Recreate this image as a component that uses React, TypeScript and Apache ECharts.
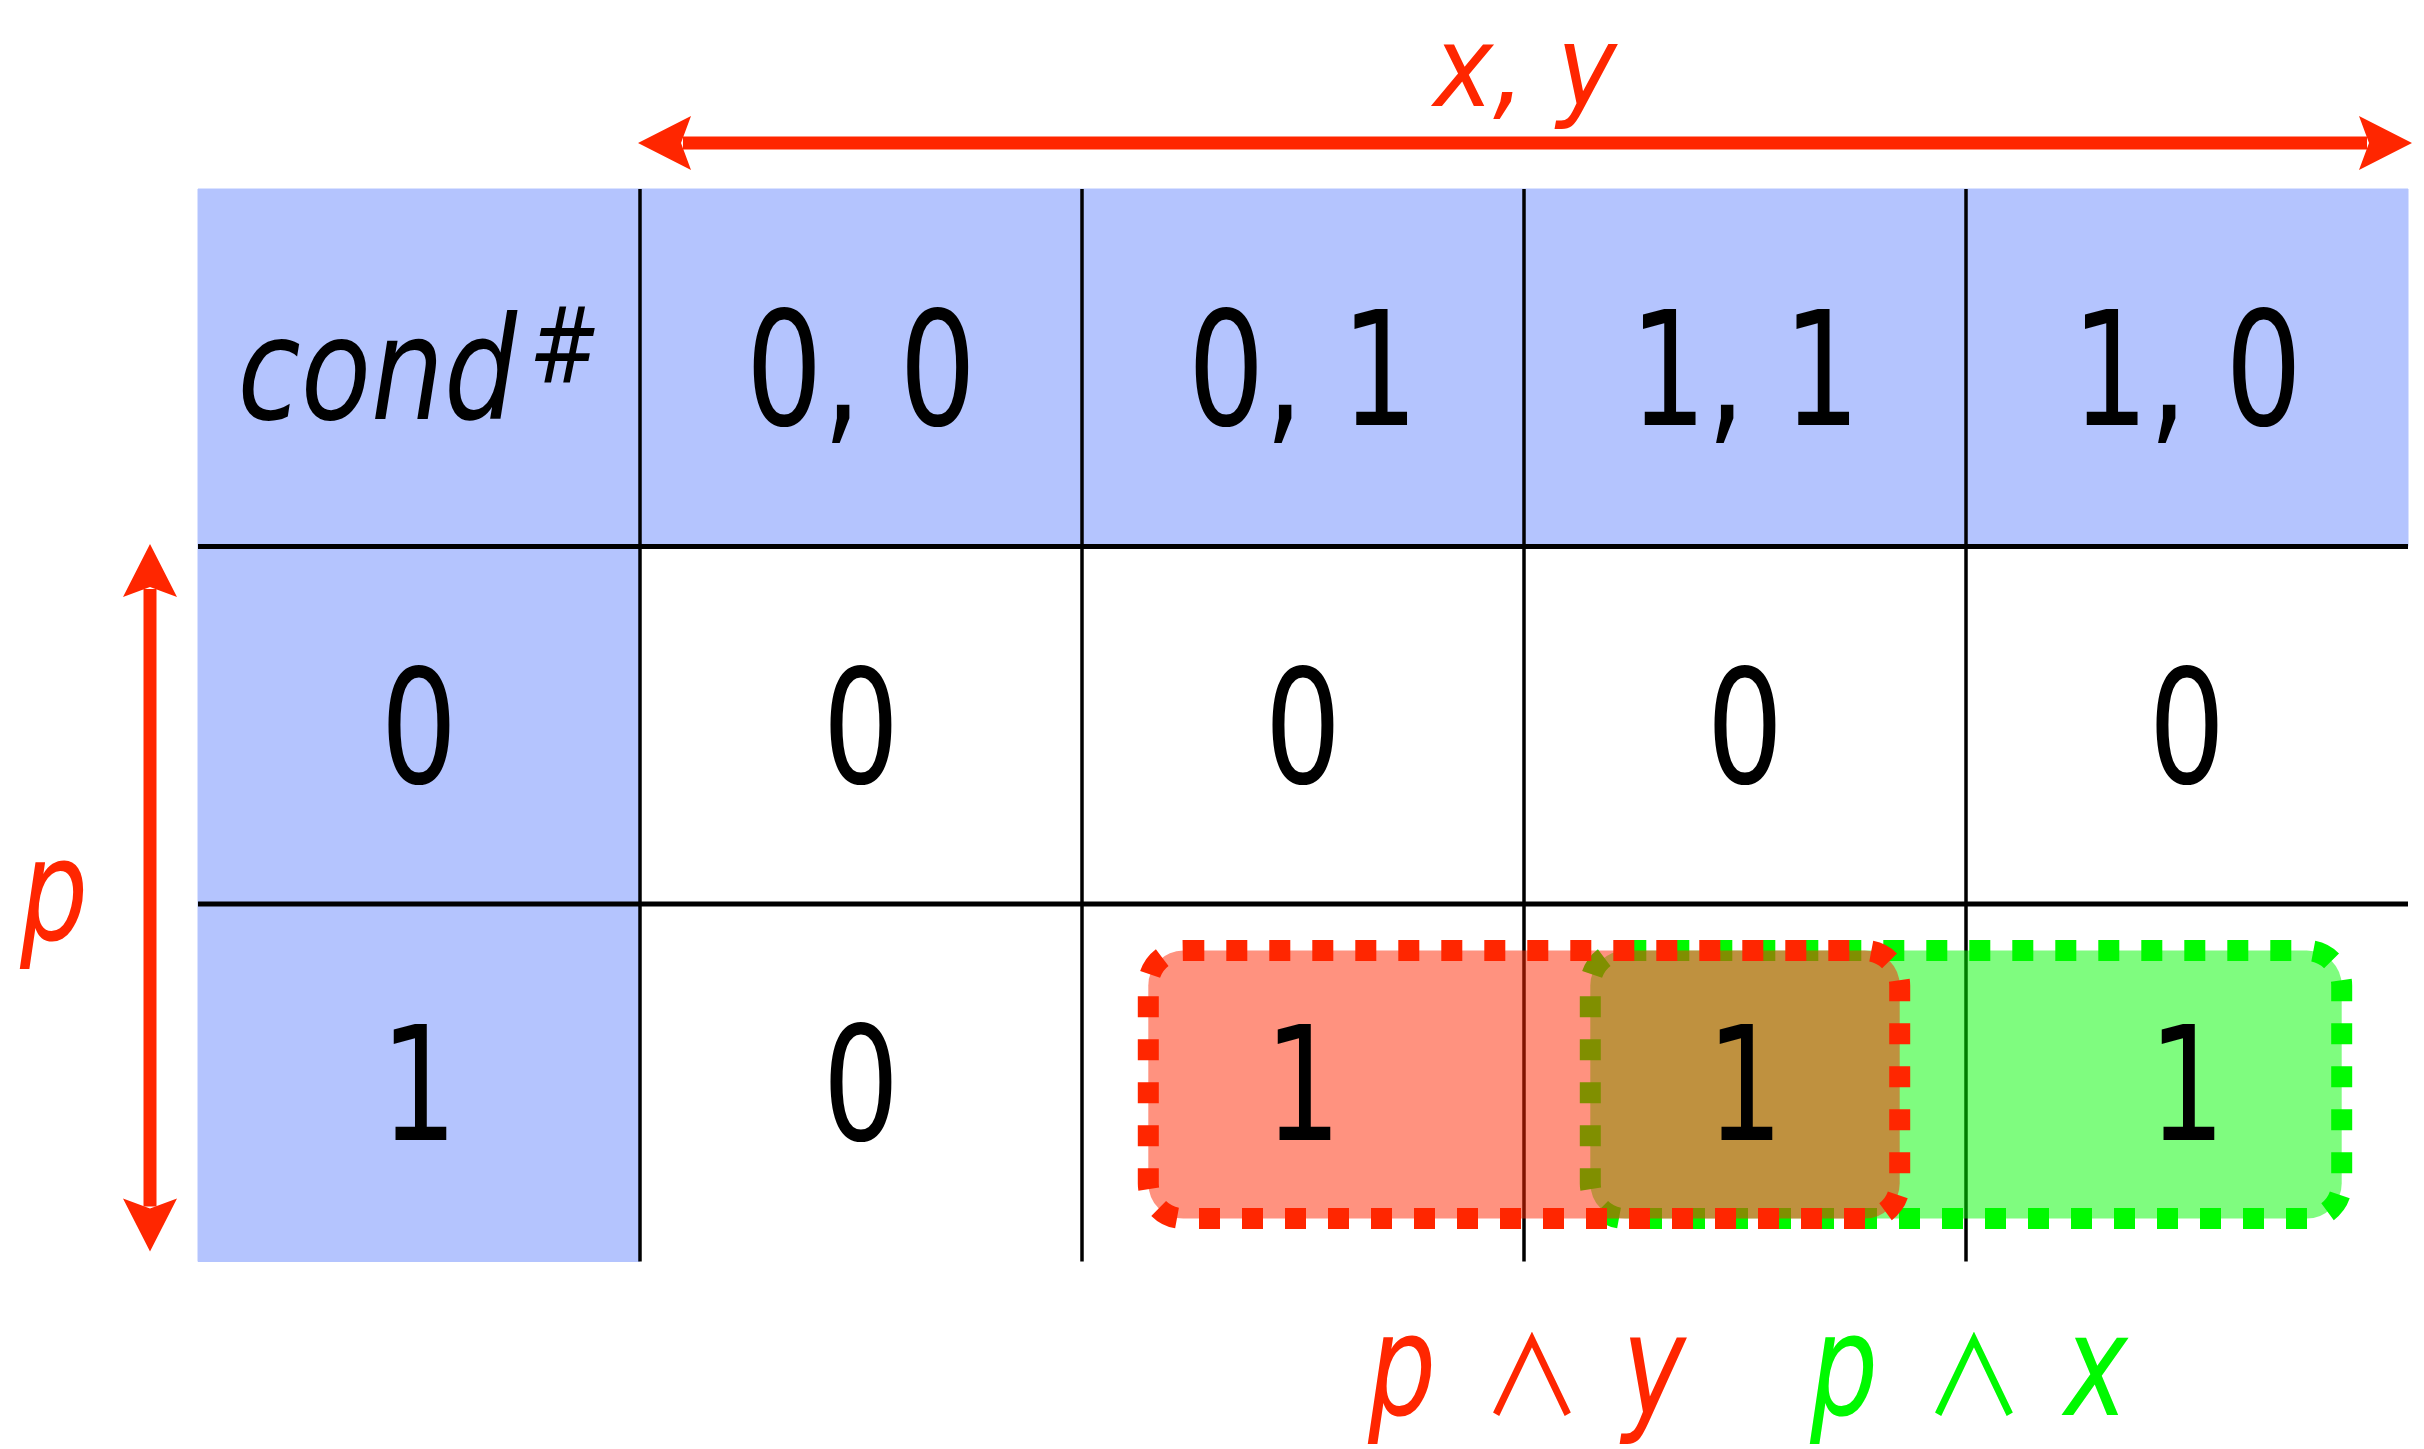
import React, { useEffect, useRef } from "react";
import * as echarts from "echarts";

// ---- data ----
const columnLabels = ["0, 0", "0, 1", "1, 1", "1, 0"]; // values of x, y
const rowLabels = ["0", "1"]; // values of p
const condValues = [
  [0, 0, 0, 0], // p = 0
  [0, 1, 1, 1], // p = 1
];
const cornerLabel = "cond";
const cornerMark = "#";
const columnAxisLabel = "x, y";
const rowAxisLabel = "p";
// highlighted spans (green drawn first, red on top)
const highlightFrom = ["1, 1", "0, 1"];
const highlightTo = ["1, 0", "1, 1"];
const highlightRow = ["1", "1"];
const highlightLabels = [
  ["p", "∧", "x"],
  ["p", "∧", "y"],
];

// ---- styles ----
const RED = "#FF2600";
const GREEN = "#00F900";
const BLUE = "#B4C4FE";
const highlightStroke = [GREEN, RED];
const highlightFill = ["rgba(0,249,0,0.5)", "rgba(255,38,0,0.5)"];
const SANS = "'DejaVu Sans Condensed', 'DejaVu Sans', sans-serif";
const SYM = "'Noto Sans CJK JP', 'DejaVu Sans', sans-serif";
const NARROW = 0.85;

const xCats = [cornerLabel + cornerMark, ...columnLabels];
const yCats = [columnAxisLabel, ...rowLabels];

const cellData: number[][] = [];
for (let yi = 0; yi < yCats.length; yi++) {
  for (let xi = 0; xi < xCats.length; xi++) cellData.push([xi, yi]);
}
const ruleData: number[][] = [];
for (let r = 1; r < yCats.length; r++) ruleData.push([0, r, 0]);
for (let c = 1; c < xCats.length; c++) ruleData.push([c, 0, 1]);

const highlightData = highlightFrom.map((f, i) => [
  xCats.indexOf(f),
  yCats.indexOf(highlightRow[i]),
  xCats.indexOf(highlightTo[i]),
]);

const arrowData = [
  [1, 0, xCats.length - 1, 0], // x, y arrow across the value columns
  [0, 1, yCats.length - 1, 1], // p arrow across the value rows
];

function cellText(xi: number, yi: number): string {
  if (yi === 0) return xCats[xi];
  if (xi === 0) return rowLabels[yi - 1];
  return String(condValues[yi - 1][xi - 1]);
}

function arrowHead(tx: number, ty: number, dx: number, dy: number) {
  const L = 53, W = 27, N = 43;
  const nx = -dy, ny = dx;
  return {
    type: "polygon",
    shape: {
      points: [
        [tx, ty],
        [tx - dx * L + nx * W, ty - dy * L + ny * W],
        [tx - dx * N, ty - dy * N],
        [tx - dx * L - nx * W, ty - dy * L - ny * W],
      ],
    },
    style: { fill: RED },
  };
}

function txt(x: number, y: number, text: string, fill: string, fontSize: number, opts: any = {}) {
  return {
    type: "text",
    x,
    y,
    scaleX: opts.scaleX ?? NARROW,
    style: {
      text,
      fill,
      fontSize,
      fontStyle: opts.italic ? "italic" : "normal",
      fontWeight: opts.weight ?? "normal",
      fontFamily: opts.family ?? SANS,
      align: opts.align ?? "center",
      verticalAlign: "middle",
    },
  };
}

export default function App() {
  const ref = useRef<HTMLDivElement>(null);
  useEffect(() => {
    if (!ref.current) return;
    const chart = echarts.init(ref.current, undefined, { renderer: "svg" });
    const option: any = {
      animation: false,
      backgroundColor: "#FFFFFF",
      grid: { left: 198, top: 189, width: 2210, height: 1072.5, containLabel: false },
      xAxis: { type: "category", data: xCats, show: false, boundaryGap: true },
      yAxis: { type: "category", data: yCats, show: false, inverse: true, boundaryGap: true },
      series: [
        {
          type: "custom",
          name: "cells",
          z: 1,
          silent: true,
          data: cellData,
          renderItem: (params: any, api: any) => {
            const xi = api.value(0), yi = api.value(1);
            const c = api.coord([xi, yi]);
            const s = api.size([1, 1]);
            const fill = xi === 0 || yi === 0 ? BLUE : "#FFFFFF";
            return {
              type: "rect",
              shape: { x: c[0] - s[0] / 2, y: c[1] - s[1] / 2, width: s[0], height: s[1] },
              style: { fill, stroke: fill, lineWidth: 1 },
            };
          },
        },
        {
          type: "custom",
          name: "rules",
          z: 2,
          silent: true,
          data: ruleData,
          renderItem: (params: any, api: any) => {
            const xi = api.value(0), yi = api.value(1), kind = api.value(2);
            const s = api.size([1, 1]);
            if (kind === 0) {
              const a = api.coord([0, yi]);
              const b = api.coord([xCats.length - 1, yi]);
              const y = a[1] - s[1] / 2;
              return {
                type: "line",
                shape: { x1: a[0] - s[0] / 2, y1: y, x2: b[0] + s[0] / 2, y2: y },
                style: { stroke: "#000000", lineWidth: 5 },
              };
            }
            const a = api.coord([xi, 0]);
            const b = api.coord([xi, yCats.length - 1]);
            const x = a[0] - s[0] / 2;
            return {
              type: "line",
              shape: { x1: x, y1: a[1] - s[1] / 2, x2: x, y2: b[1] + s[1] / 2 },
              style: { stroke: "#000000", lineWidth: 3.5 },
            };
          },
        },
        {
          type: "custom",
          name: "highlights",
          z: 3,
          silent: true,
          data: highlightData,
          renderItem: (params: any, api: any) => {
            const i = params.dataIndex;
            const a = api.coord([api.value(0), api.value(1)]);
            const b = api.coord([api.value(2), api.value(1)]);
            const s = api.size([1, 1]);
            const x0 = a[0] - s[0] / 2 + 0.15 * s[0];
            const x1 = b[0] + s[0] / 2 - 0.15 * s[0];
            const y0 = a[1] - s[1] / 2 + 0.13 * s[1];
            const y1 = a[1] + s[1] / 2 - 0.12 * s[1];
            const bottom = a[1] + s[1] / 2;
            const cx = (x0 + x1) / 2;
            const lab = highlightLabels[i];
            const col = highlightStroke[i];
            return {
              type: "group",
              children: [
                {
                  type: "rect",
                  shape: { x: x0, y: y0, width: x1 - x0, height: y1 - y0, r: 35 },
                  style: {
                    fill: highlightFill[i],
                    stroke: col,
                    lineWidth: 21,
                    lineDash: [21, 22],
                  },
                },
                txt(cx - 122, bottom + 105, lab[0], col, 140, { italic: true }),
                txt(cx + 8, bottom + 106, lab[1], col, 108, { family: SYM, scaleX: 0.93 }),
                txt(cx + 130, bottom + 105, lab[2], col, 140, { italic: true }),
              ],
            };
          },
        },
        {
          type: "custom",
          name: "texts",
          z: 4,
          silent: true,
          data: cellData,
          renderItem: (params: any, api: any) => {
            const xi = api.value(0), yi = api.value(1);
            const c = api.coord([xi, yi]);
            if (xi === 0 && yi === 0) {
              return {
                type: "group",
                children: [
                  txt(c[0] + 98, c[1] + 2, cornerLabel, "#000000", 142, { italic: true, align: "right", scaleX: 0.9 }),
                  txt(c[0] + 110, c[1] - 22, cornerMark, "#000000", 105, { italic: true, align: "left", scaleX: 0.9 }),
                ],
              };
            }
            return txt(c[0], c[1] + 3, cellText(xi, yi), "#000000", 158);
          },
        },
        {
          type: "custom",
          name: "arrows",
          z: 5,
          silent: true,
          data: arrowData,
          renderItem: (params: any, api: any) => {
            const kind = api.value(3);
            const s = api.size([1, 1]);
            if (kind === 0) {
              const a = api.coord([api.value(0), api.value(1)]);
              const b = api.coord([api.value(2), api.value(1)]);
              const xL = a[0] - s[0] / 2 - 2;
              const xR = b[0] + s[0] / 2 + 4;
              const y = a[1] - s[1] / 2 - 46;
              return {
                type: "group",
                children: [
                  { type: "line", shape: { x1: xL + 45, y1: y, x2: xR - 45, y2: y }, style: { stroke: RED, lineWidth: 13 } },
                  arrowHead(xL, y, -1, 0),
                  arrowHead(xR, y, 1, 0),
                  txt((xL + xR) / 2, a[1] - s[1] / 2 - 122, columnAxisLabel, RED, 112, { italic: true, scaleX: 1 }),
                ],
              };
            }
            const a = api.coord([api.value(0), api.value(1)]);
            const b = api.coord([api.value(0), api.value(2)]);
            const x = a[0] - s[0] / 2 - 48;
            const yT = a[1] - s[1] / 2 - 2.5;
            const yB = b[1] + s[1] / 2 - 10;
            const mid = (a[1] - s[1] / 2 + b[1] + s[1] / 2) / 2;
            return {
              type: "group",
              children: [
                { type: "line", shape: { x1: x, y1: yT + 45, x2: x, y2: yB - 45 }, style: { stroke: RED, lineWidth: 13 } },
                arrowHead(x, yT, 0, -1),
                arrowHead(x, yB, 0, 1),
                txt(x - 96, mid - 12, rowAxisLabel, RED, 140, { italic: true }),
              ],
            };
          },
        },
      ],
    };
    chart.setOption(option);
    return () => chart.dispose();
  }, []);
  return (
    <div
      ref={ref}
      style={{ position: "absolute", left: 0, top: 0, width: 2424, height: 1449, background: "#FFFFFF" }}
    />
  );
}
